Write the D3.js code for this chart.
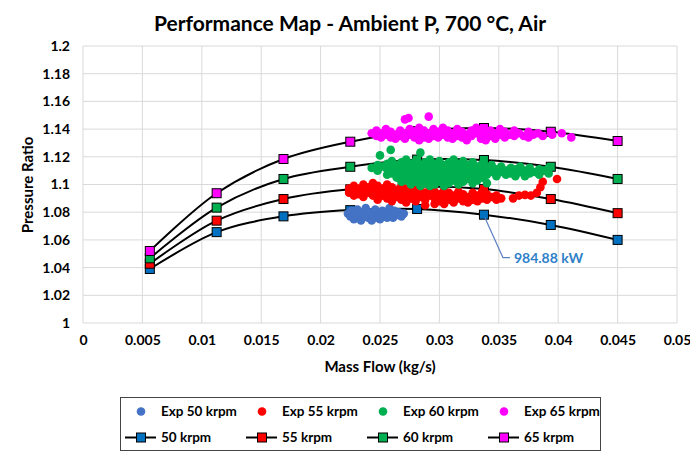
<!DOCTYPE html>
<html>
<head>
<meta charset="utf-8">
<script src="https://cdn.jsdelivr.net/npm/d3@7"></script>
<style>
  body { margin: 0; background: #fff; }
  text { font-family: Lato, "Open Sans", sans-serif; font-weight: bold; fill: #000; }
</style>
</head>
<body>
<div id="chart"></div>
<script>
// model curves (speed lines)
const massFlowModel = [0.005625, 0.01125, 0.016875, 0.0225, 0.028125, 0.03375, 0.039375, 0.045];
const pr50 = [1.0390, 1.0656, 1.0770, 1.0815, 1.0823, 1.0782, 1.0708, 1.0600];
const pr55 = [1.0428, 1.0739, 1.0895, 1.0965, 1.0985, 1.0967, 1.0895, 1.0793];
const pr60 = [1.0467, 1.0833, 1.1040, 1.1128, 1.1180, 1.1177, 1.1128, 1.1040];
const pr65 = [1.0520, 1.0937, 1.1184, 1.1309, 1.1385, 1.1408, 1.1381, 1.1314];

// experimental points [mass flow, pressure ratio]
const exp50 = [
    [0.0223,1.079],[0.0225,1.077],[0.0226,1.081],[0.0228,1.075],[0.0229,1.079],[0.0231,1.082],
    [0.0232,1.077],[0.0234,1.074],[0.0235,1.080],[0.0237,1.078],[0.0238,1.083],[0.0240,1.076],
    [0.0241,1.080],[0.0243,1.074],[0.0244,1.078],[0.0246,1.082],[0.0247,1.076],[0.0249,1.079],
    [0.0250,1.075],[0.0252,1.081],[0.0253,1.077],[0.0255,1.080],[0.0256,1.076],[0.0258,1.083],
    [0.0259,1.078],[0.0261,1.076],[0.0262,1.081],[0.0264,1.078],[0.0266,1.080],[0.0268,1.077],
    [0.0270,1.079]
];
const exp55 = [
    [0.0224,1.097],[0.0224,1.094],[0.0228,1.099],[0.0228,1.095],[0.0228,1.092],[0.0232,1.097],
    [0.0232,1.093],[0.0236,1.100],[0.0236,1.096],[0.0236,1.091],[0.0240,1.098],[0.0240,1.094],
    [0.0244,1.101],[0.0244,1.096],[0.0244,1.092],[0.0248,1.099],[0.0248,1.094],[0.0248,1.089],
    [0.0252,1.097],[0.0252,1.092],[0.0256,1.100],[0.0256,1.095],[0.0256,1.090],[0.0260,1.098],
    [0.0260,1.093],[0.0260,1.088],[0.0264,1.096],[0.0264,1.091],[0.0268,1.099],[0.0268,1.094],
    [0.0268,1.089],[0.0272,1.097],[0.0272,1.092],[0.0272,1.087],[0.0276,1.095],[0.0276,1.090],
    [0.0280,1.098],[0.0280,1.093],[0.0280,1.088],[0.0284,1.096],[0.0284,1.091],[0.0288,1.094],
    [0.0288,1.089],[0.0288,1.085],[0.0292,1.097],[0.0292,1.092],[0.0296,1.095],[0.0296,1.090],
    [0.0296,1.086],[0.0300,1.093],[0.0300,1.088],[0.0304,1.096],[0.0304,1.091],[0.0304,1.086],
    [0.0308,1.094],[0.0308,1.089],[0.0312,1.092],[0.0312,1.087],[0.0316,1.095],[0.0316,1.090],
    [0.0320,1.093],[0.0320,1.088],[0.0324,1.091],[0.0324,1.087],[0.0328,1.094],[0.0328,1.089],
    [0.0332,1.092],[0.0332,1.088],[0.0336,1.095],[0.0336,1.090],[0.0340,1.093],[0.0340,1.089],
    [0.0344,1.091],[0.0348,1.092],[0.0348,1.089],[0.0352,1.090],[0.0362,1.090],[0.0367,1.092],
    [0.0372,1.0925],[0.0377,1.092],[0.0382,1.094],[0.0385,1.098],[0.0387,1.102],[0.0399,1.104]
];
const exp60 = [
    [0.0243,1.112],[0.0248,1.114],[0.0248,1.110],[0.0252,1.113],[0.0250,1.121],[0.0259,1.125],
    [0.0256,1.115],[0.0256,1.111],[0.0256,1.107],[0.0260,1.117],[0.0260,1.112],[0.0260,1.108],
    [0.0264,1.114],[0.0264,1.110],[0.0264,1.105],[0.0268,1.116],[0.0268,1.111],[0.0268,1.106],
    [0.0268,1.102],[0.0272,1.118],[0.0272,1.113],[0.0272,1.108],[0.0272,1.103],[0.0276,1.115],
    [0.0276,1.110],[0.0276,1.105],[0.0276,1.100],[0.0280,1.117],[0.0280,1.112],[0.0280,1.107],
    [0.0280,1.102],[0.0284,1.123],[0.0284,1.114],[0.0284,1.109],[0.0284,1.104],[0.0284,1.099],
    [0.0288,1.116],[0.0288,1.111],[0.0288,1.106],[0.0288,1.101],[0.0292,1.118],[0.0292,1.113],
    [0.0292,1.108],[0.0292,1.103],[0.0292,1.099],[0.0296,1.115],[0.0296,1.110],[0.0296,1.105],
    [0.0296,1.100],[0.0300,1.117],[0.0300,1.112],[0.0300,1.107],[0.0300,1.102],[0.0304,1.114],
    [0.0304,1.109],[0.0304,1.104],[0.0304,1.099],[0.0308,1.116],[0.0308,1.111],[0.0308,1.106],
    [0.0308,1.101],[0.0312,1.118],[0.0312,1.113],[0.0312,1.108],[0.0312,1.103],[0.0316,1.115],
    [0.0316,1.110],[0.0316,1.105],[0.0316,1.100],[0.0320,1.117],[0.0320,1.112],[0.0320,1.107],
    [0.0320,1.102],[0.0324,1.114],[0.0324,1.109],[0.0324,1.104],[0.0328,1.116],[0.0328,1.111],
    [0.0328,1.106],[0.0328,1.101],[0.0332,1.113],[0.0332,1.108],[0.0332,1.103],[0.0336,1.115],
    [0.0336,1.110],[0.0336,1.105],[0.0340,1.112],[0.0340,1.107],[0.0340,1.101],[0.0344,1.114],
    [0.0344,1.109],[0.0348,1.111],[0.0348,1.106],[0.0352,1.113],[0.0352,1.109],[0.0356,1.110],
    [0.0356,1.107],[0.0360,1.112],[0.0360,1.108],[0.0364,1.111],[0.0364,1.106],[0.0368,1.113],
    [0.0368,1.109],[0.0372,1.110],[0.0372,1.106],[0.0376,1.112],[0.0376,1.108],[0.0380,1.109],
    [0.0384,1.111],[0.0384,1.107],[0.0388,1.110],[0.0392,1.112],[0.0392,1.108]
];
const exp65 = [
    [0.0243,1.137],[0.0247,1.139],[0.0247,1.135],[0.0251,1.137],[0.0251,1.134],[0.0255,1.140],
    [0.0255,1.136],[0.0259,1.138],[0.0259,1.134],[0.0263,1.136],[0.0263,1.133],[0.0267,1.139],
    [0.0267,1.135],[0.0271,1.147],[0.0271,1.137],[0.0271,1.133],[0.0274,1.148],[0.0275,1.140],
    [0.0275,1.136],[0.0279,1.138],[0.0279,1.134],[0.0283,1.141],[0.0283,1.136],[0.0283,1.132],
    [0.0287,1.139],[0.0287,1.134],[0.0291,1.149],[0.0291,1.137],[0.0291,1.133],[0.0295,1.140],
    [0.0295,1.135],[0.0299,1.138],[0.0299,1.134],[0.0303,1.141],[0.0303,1.136],[0.0307,1.139],
    [0.0307,1.134],[0.0311,1.137],[0.0311,1.133],[0.0315,1.140],[0.0315,1.135],[0.0319,1.138],
    [0.0319,1.134],[0.0323,1.136],[0.0323,1.132],[0.0327,1.139],[0.0327,1.135],[0.0331,1.141],
    [0.0331,1.137],[0.0335,1.138],[0.0335,1.133],[0.0339,1.136],[0.0339,1.132],[0.0343,1.139],
    [0.0343,1.135],[0.0347,1.137],[0.0347,1.133],[0.0351,1.140],[0.0351,1.136],[0.0355,1.138],
    [0.0355,1.134],[0.0359,1.136],[0.0363,1.139],[0.0363,1.135],[0.0367,1.137],[0.0371,1.135],
    [0.0375,1.138],[0.0375,1.134],[0.0379,1.136],[0.0383,1.137],[0.0387,1.135],[0.0395,1.136],
    [0.0403,1.137],[0.0411,1.134]
];

const xTicks = [0, 0.005, 0.01, 0.015, 0.02, 0.025, 0.03, 0.035, 0.04, 0.045, 0.05];
const yTicks = [1, 1.02, 1.04, 1.06, 1.08, 1.1, 1.12, 1.14, 1.16, 1.18, 1.2];
const annotationLabel = "984.88 kW";

const width = 690;
const height = 452;
const margin = { top: 46, right: 13, bottom: 129, left: 83 };
const innerW = width - margin.left - margin.right;
const innerH = height - margin.top - margin.bottom;

const svg = d3.select("#chart")
    .append("svg")
    .attr("width", width)
    .attr("height", height);

const g = svg.append("g")
    .attr("transform", "translate(" + margin.left + "," + margin.top + ")");

const x = d3.scaleLinear().domain([0, 0.05]).range([0, innerW]);
const y = d3.scaleLinear().domain([1, 1.2]).range([innerH, 0]);

// gridlines
g.append("g")
    .selectAll("line.vgrid")
    .data(xTicks)
    .enter()
    .append("line")
    .attr("x1", d => x(d)).attr("x2", d => x(d))
    .attr("y1", 0).attr("y2", innerH)
    .attr("stroke", "#d9d9d9")
    .attr("stroke-width", 1);

g.append("g")
    .selectAll("line.hgrid")
    .data(yTicks)
    .enter()
    .append("line")
    .attr("x1", 0).attr("x2", innerW)
    .attr("y1", d => y(d)).attr("y2", d => y(d))
    .attr("stroke", "#d9d9d9")
    .attr("stroke-width", 1);

// axes (labels only)
const xAxis = g.append("g")
    .attr("transform", "translate(0," + innerH + ")")
    .call(d3.axisBottom(x).tickValues(xTicks).tickSize(0).tickPadding(12)
        .tickFormat(d => String(+d.toFixed(3))));
xAxis.select(".domain").remove();
xAxis.selectAll("text").attr("font-size", 14).style("font-family", "Lato").style("font-weight", "bold");

const yAxis = g.append("g")
    .call(d3.axisLeft(y).tickValues(yTicks).tickSize(0).tickPadding(13)
        .tickFormat(d => String(+d.toFixed(2))));
yAxis.select(".domain").remove();
yAxis.selectAll("text").attr("font-size", 14).style("font-family", "Lato").style("font-weight", "bold");

// model lines
const models = [
    { name: "50 krpm", values: pr50, color: "#0070C0" },
    { name: "55 krpm", values: pr55, color: "#FF0000" },
    { name: "60 krpm", values: pr60, color: "#00B050" },
    { name: "65 krpm", values: pr65, color: "#FF00FF" }
];

const line = d3.line()
    .x(d => x(d[0]))
    .y(d => y(d[1]))
    .curve(d3.curveCatmullRom.alpha(0.5));

models.forEach(function (m) {
    const pts = massFlowModel.map((mf, i) => [mf, m.values[i]]);
    g.append("path")
        .datum(pts)
        .attr("d", line)
        .attr("fill", "none")
        .attr("stroke", "#000")
        .attr("stroke-width", 2);
    g.selectAll(null)
        .data(pts)
        .enter()
        .append("rect")
        .attr("x", d => x(d[0]) - 4.5)
        .attr("y", d => y(d[1]) - 4.5)
        .attr("width", 9)
        .attr("height", 9)
        .attr("fill", m.color)
        .attr("stroke", "#000")
        .attr("stroke-width", 1);
});

// experimental scatter
const exps = [
    { name: "Exp 50 krpm", values: exp50, color: "#4472C4" },
    { name: "Exp 55 krpm", values: exp55, color: "#FF0000" },
    { name: "Exp 60 krpm", values: exp60, color: "#00B050" },
    { name: "Exp 65 krpm", values: exp65, color: "#FF00FF" }
];

exps.forEach(function (e) {
    g.selectAll(null)
        .data(e.values)
        .enter()
        .append("circle")
        .attr("cx", d => x(d[0]))
        .attr("cy", d => y(d[1]))
        .attr("r", 4.3)
        .attr("fill", e.color);
});

// annotation on 50 krpm point
const ax = x(massFlowModel[5]);
const ay = y(pr50[5]);
g.append("polyline")
    .attr("points", [[ax + 1, ay + 3], [ax + 19, ay + 43], [ax + 26, ay + 43]].map(p => p.join(",")).join(" "))
    .attr("fill", "none")
    .attr("stroke", "#5B7FC4")
    .attr("stroke-width", 1.2);
g.append("text")
    .attr("x", ax + 30)
    .attr("y", ay + 43)
    .attr("dy", "0.35em")
    .attr("font-size", 14)
    .style("fill", "#2E80C8")
    .text(annotationLabel);

// titles
svg.append("text")
    .attr("x", 350)
    .attr("y", 31)
    .attr("text-anchor", "middle")
    .attr("font-size", 21)
    .text("Performance Map - Ambient P, 700 °C, Air");

svg.append("text")
    .attr("x", margin.left + innerW / 2)
    .attr("y", 372)
    .attr("text-anchor", "middle")
    .attr("font-size", 15)
    .text("Mass Flow (kg/s)");

svg.append("text")
    .attr("transform", "translate(33,185) rotate(-90)")
    .attr("text-anchor", "middle")
    .attr("font-size", 15)
    .text("Pressure Ratio");

// legend
const legend = svg.append("g");
legend.append("rect")
    .attr("x", 120.5).attr("y", 397.5)
    .attr("width", 480).attr("height", 53)
    .attr("fill", "#fff")
    .attr("stroke", "#444")
    .attr("stroke-width", 1);

exps.forEach(function (e, i) {
    const cx = 141 + i * 121;
    legend.append("circle")
        .attr("cx", cx).attr("cy", 411.5)
        .attr("r", 4.3)
        .attr("fill", e.color);
    legend.append("text")
        .attr("x", cx + 20).attr("y", 411.5)
        .attr("dy", "0.35em")
        .attr("font-size", 13.5)
        .text(e.name);
});

models.forEach(function (m, i) {
    const cx = 141 + i * 121;
    legend.append("line")
        .attr("x1", cx - 16).attr("x2", cx + 15)
        .attr("y1", 437.5).attr("y2", 437.5)
        .attr("stroke", "#000")
        .attr("stroke-width", 2);
    legend.append("rect")
        .attr("x", cx - 4.5).attr("y", 433)
        .attr("width", 9).attr("height", 9)
        .attr("fill", m.color)
        .attr("stroke", "#000");
    legend.append("text")
        .attr("x", cx + 20).attr("y", 437.5)
        .attr("dy", "0.35em")
        .attr("font-size", 13.5)
        .text(m.name);
});
</script>
</body>
</html>
